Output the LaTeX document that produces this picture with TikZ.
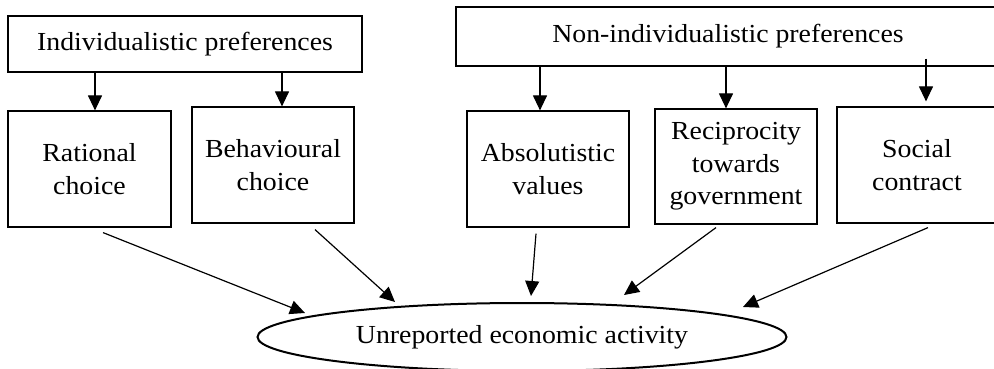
\documentclass[tikz,border=0pt]{standalone}
\usepackage{fontspec}
\setmainfont{Liberation Serif}[FakeStretch=1.07]
\usetikzlibrary{arrows.meta}
\usetikzlibrary{calc}
\usetikzlibrary{shapes.geometric}

\tikzset{
    caja/.style={draw, line width=1.2pt, align=center, inner sep=0pt},
    flecha/.style={-{Triangle[length=15pt, width=14pt]}, line width=1.2pt},
}

\begin{document}
\begin{tikzpicture}[x=1pt, y=-1pt, font=\fontsize{26}{32.5}\selectfont]

    \useasboundingbox (0,0) rectangle (994,369);

    % Preferencias
    \node[caja, minimum width=354pt, minimum height=56pt] (indiv) at (185,44) {Individualistic preferences};
    \node[caja, minimum width=544pt, minimum height=59pt] (nonindiv) at (728,36.5) {Non-individualistic preferences};

    % Cajas intermedias
    \node[caja, minimum width=163pt, minimum height=116pt] (rational) at (89.5,169) {Rational\\choice};
    \node[caja, minimum width=162pt, minimum height=116pt] (behav) at (273,165) {Behavioural\\choice};
    \node[caja, minimum width=162pt, minimum height=116pt] (absol) at (548,169) {Absolutistic\\values};
    \node[caja, minimum width=162pt, minimum height=115pt] (recip) at (736,166.5) {Reciprocity\\towards\\government};
    \node[caja, minimum width=160pt, minimum height=116pt] (social) at (917,165) {Social\\contract};

    % Elipse
    \node[draw, ellipse, line width=2pt, inner sep=0pt, minimum width=529pt, minimum height=68pt] (unrep) at (522,337) {Unreported economic activity};

    % Flechas de arriba
    \draw[flecha] ($(indiv.south -| rational.north)+(5.5,0)$) -- ($(rational.north)+(5.5,0)$);
    \draw[flecha] ($(indiv.south -| behav.north)+(9,0)$) -- ($(behav.north)+(9,0)$);
    \draw[flecha] ($(nonindiv.south -| absol.north)+(-8,0)$) -- ($(absol.north)+(-8,0)$);
    \draw[flecha] ($(nonindiv.south -| recip.north)+(-10,0)$) -- ($(recip.north)+(-10,0)$);
    \draw[flecha] ($(nonindiv.south -| social.north)+(9,-8)$) -- ($(social.north)+(9,-5)$);

    % Flechas hacia la elipse
    \draw[flecha] ($(rational.south)+(13.5,5)$) -- ($(unrep.center)+(-217,-24)$);
    \draw[flecha] ($(behav.south)+(42,6)$) -- ($(unrep.center)+(-127,-35)$);
    \draw[flecha] ($(absol.south)+(-12,6)$) -- ($(unrep.center)+(9,-41)$);
    \draw[flecha] ($(recip.south)+(-20,3)$) -- ($(unrep.center)+(102,-42)$);
    \draw[flecha] ($(social.south)+(11,4)$) -- ($(unrep.center)+(221,-30)$);

\end{tikzpicture}
\end{document}
